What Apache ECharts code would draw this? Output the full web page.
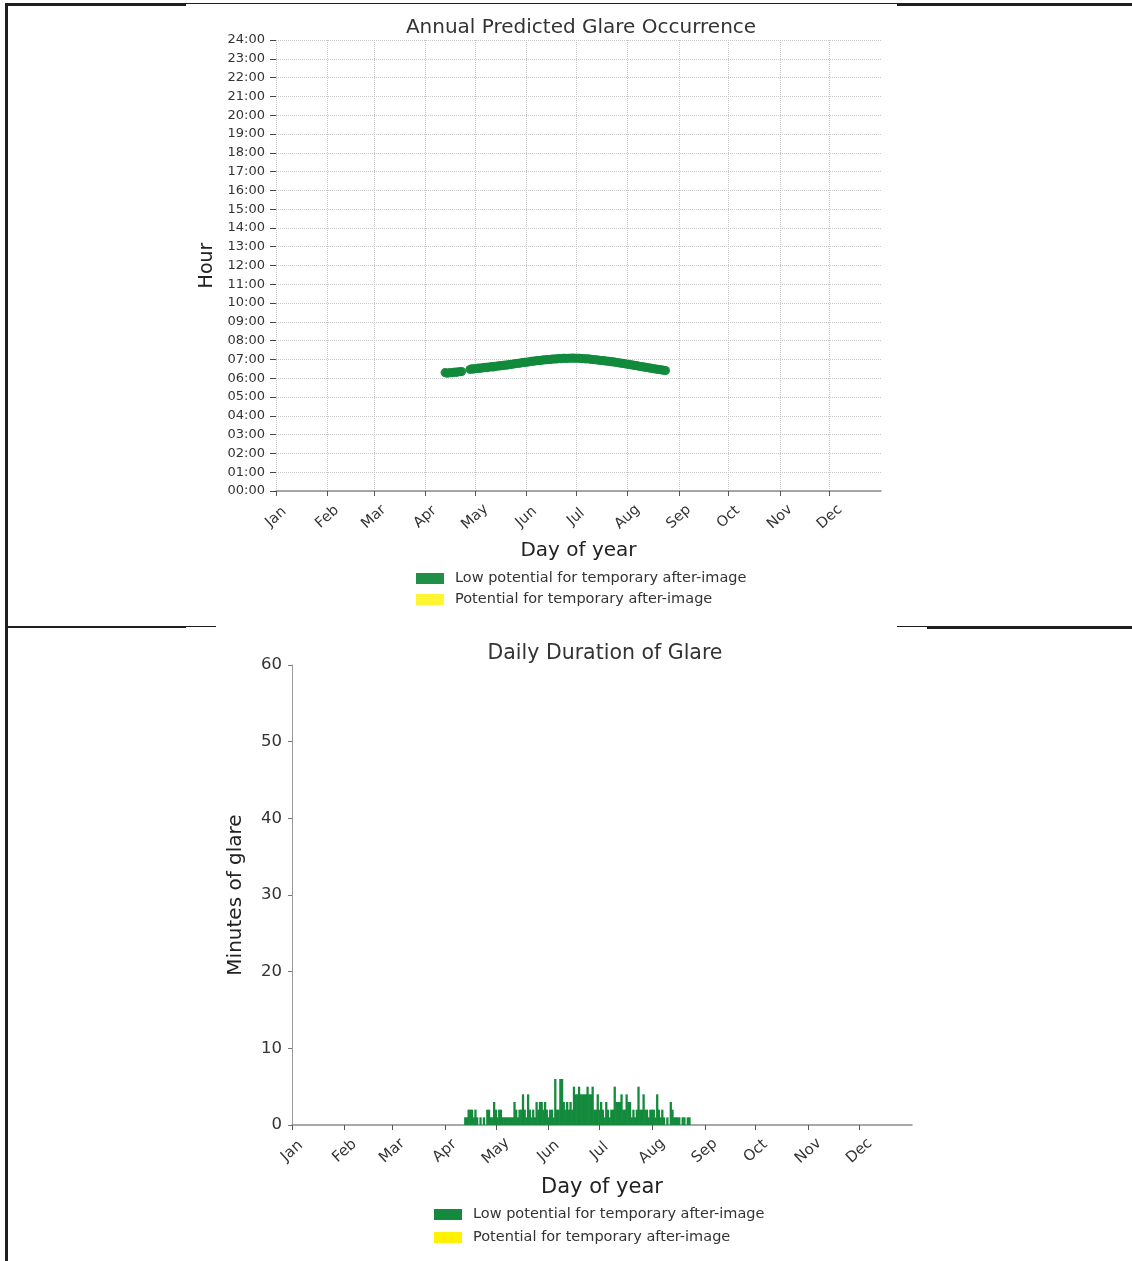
<!DOCTYPE html>
<html>
<head>
<meta charset="utf-8">
<script src="https://cdn.jsdelivr.net/npm/echarts@6/dist/echarts.min.js"></script>
<style>
  html, body { margin: 0; padding: 0; background: #fff; }
  #page { position: relative; width: 1132px; height: 1261px; overflow: hidden; background: #fff; }
  .rule { position: absolute; background: #1e1e1e; }
  #occ { position: absolute; left: 0; top: 0; width: 1132px; height: 627px; }
  #dur { position: absolute; left: 0; top: 627px; width: 1132px; height: 634px; }
</style>
</head>
<body>
<div id="page">
  <div id="occ"></div>
  <div id="dur"></div>
  <!-- table frame around the two figures -->
  <div class="rule" style="left:5px; top:3px; width:181px; height:3px;"></div>
  <div class="rule" style="left:186px; top:3px; width:711px; height:1px;"></div>
  <div class="rule" style="left:897px; top:3px; width:235px; height:3px;"></div>
  <div class="rule" style="left:5px; top:626px; width:181px; height:2px;"></div>
  <div class="rule" style="left:186px; top:626px; width:30px; height:1px;"></div>
  <div class="rule" style="left:897px; top:626px; width:30px; height:1px;"></div>
  <div class="rule" style="left:927px; top:626px; width:205px; height:3px;"></div>
  <div class="rule" style="left:5px; top:3px; width:3px; height:1258px;"></div>
</div>
<script>
// Month labels and the day-of-year on which each month starts
const monthLabels = ['Jan','Feb','Mar','Apr','May','Jun','Jul','Aug','Sep','Oct','Nov','Dec'];
const monthStarts = [0, 31, 59, 90, 120, 151, 181, 212, 243, 273, 304, 334];

// Hour-of-day tick labels
const hourTicks = ['00:00','01:00','02:00','03:00','04:00','05:00','06:00','07:00','08:00','09:00','10:00','11:00','12:00',
                   '13:00','14:00','15:00','16:00','17:00','18:00','19:00','20:00','21:00','22:00','23:00','24:00'];

// Days of year with glare and the time of day (hours) it occurs
const glareDays = [102,103,104,105,106,107,108,109,110,111,112,
  117,118,119,120,121,122,123,124,125,126,127,128,129,130,131,132,133,134,135,136,137,138,139,140,
  141,142,143,144,145,146,147,148,149,150,151,152,153,154,155,156,157,158,159,160,
  161,162,163,164,165,166,167,168,169,170,171,172,173,174,175,176,177,178,179,180,
  181,182,183,184,185,186,187,188,189,190,191,192,193,194,195,196,197,198,199,200,
  201,202,203,204,205,206,207,208,209,210,211,212,213,214,215,216,217,218,219,220,
  221,222,223,224,225,226,227,228,229,230,231,232,233,234,235];
const glareHours = [6.30,6.27,6.28,6.31,6.29,6.31,6.33,6.31,6.35,6.34,6.36,
  6.47,6.50,6.48,6.52,6.51,6.54,6.52,6.56,6.55,6.58,6.56,6.60,6.59,6.62,6.60,6.64,6.63,6.66,6.65,6.68,6.68,6.70,6.69,6.72,
  6.73,6.74,6.75,6.77,6.78,6.80,6.80,6.82,6.84,6.85,6.85,6.87,6.88,6.90,6.90,6.92,6.93,6.94,6.94,6.96,
  6.97,6.98,6.98,7.00,7.00,7.01,7.02,7.03,7.02,7.04,7.05,7.04,7.06,7.06,7.05,7.07,7.07,7.06,7.08,7.07,
  7.06,7.07,7.06,7.05,7.05,7.04,7.03,7.04,7.02,7.01,7.00,6.99,6.99,6.97,6.96,6.95,6.95,6.93,6.92,6.91,
  6.90,6.88,6.88,6.86,6.85,6.83,6.82,6.80,6.80,6.78,6.76,6.75,6.74,6.72,6.70,6.69,6.68,6.66,6.64,6.63,
  6.61,6.60,6.58,6.57,6.55,6.54,6.52,6.51,6.49,6.48,6.46,6.45,6.44,6.42,6.41];

// Minutes of glare per day, starting at day 102
const durationStartDay = 102;
const glareMinutes = [1,1,2,2,2,1,2,1,0,1,0,1,0,2,2,1,1,3,2,1,2,2,1,1,1,1,1,1,1,3,2,1,2,2,4,2,1,4,2,1,
  2,1,3,2,3,3,2,3,2,1,2,2,1,6,2,2,6,6,3,2,3,2,3,2,5,4,4,5,4,4,4,4,5,4,4,5,2,2,4,2,
  3,2,1,3,2,1,2,2,5,3,3,3,4,2,2,4,3,3,1,2,1,2,5,2,2,4,2,2,1,2,2,2,1,4,2,1,2,1,0,1,
  0,3,2,1,1,1,1,0,1,1,0,1,1];

const GREEN = '#138a3c';
const YELLOW = '#fff200';
const FONT = 'DejaVu Sans';

const scatterData = glareDays.map((d, i) => [d, glareHours[i]]);
const barData = glareMinutes.map((m, i) => [durationStartDay + i, m]);

function monthAxis(fontSize, margin) {
  return {
    type: 'value', min: 0, max: 365,
    axisLine: { show: true, lineStyle: { color: '#8c8c8c', width: 1.5 } },
    axisTick: { show: true, customValues: monthStarts, length: 5, lineStyle: { color: '#555' } },
    axisLabel: {
      customValues: monthStarts,
      formatter: v => monthLabels[monthStarts.indexOf(v)],
      rotate: 42, align: 'center', verticalAlign: 'middle', margin: margin,
      fontFamily: FONT, fontSize: fontSize, color: '#333'
    }
  };
}

const legendBase = {
  orient: 'vertical', icon: 'rect', itemWidth: 28, itemHeight: 11,
  selectedMode: false
};

// Annual predicted glare occurrence
const occChart = echarts.init(document.getElementById('occ'), null, { renderer: 'canvas' });
occChart.setOption({
  animation: false,
  title: {
    text: 'Annual Predicted Glare Occurrence', left: 576, top: 13, textAlign: 'center',
    textStyle: { fontFamily: FONT, fontSize: 20, fontWeight: 'normal', color: '#333' }
  },
  grid: { left: 276, top: 40, width: 605, height: 451 },
  xAxis: Object.assign(monthAxis(14.5, 26), {
    name: 'Day of year', nameLocation: 'middle', nameGap: 50,
    nameTextStyle: { fontFamily: FONT, fontSize: 20, color: '#222' },
    splitLine: { show: true, lineStyle: { color: '#c8c8c8', type: [1, 1], width: 1 } }
  }),
  yAxis: {
    type: 'value', min: 0, max: 24, interval: 1,
    name: 'Hour', nameLocation: 'middle', nameGap: 57, nameRotate: 90,
    nameTextStyle: { fontFamily: FONT, fontSize: 19, color: '#222' },
    axisLine: { show: false },
    axisTick: { show: true, length: 6, lineStyle: { color: '#444' } },
    axisLabel: { formatter: v => hourTicks[v], fontFamily: FONT, fontSize: 13, color: '#333', margin: 11 },
    splitLine: { show: true, lineStyle: { color: '#c8c8c8', type: [1, 1], width: 1 } }
  },
  legend: Object.assign({}, legendBase, {
    left: 411, top: 566, itemGap: 6,
    textStyle: { fontFamily: FONT, fontSize: 14.5, color: '#333', padding: [0, 0, 0, 6] },
    data: ['Low potential for temporary after-image', 'Potential for temporary after-image']
  }),
  series: [
    {
      name: 'Low potential for temporary after-image', type: 'scatter',
      data: scatterData, symbolSize: 9, itemStyle: { color: GREEN, opacity: 0.95 }
    },
    {
      name: 'Potential for temporary after-image', type: 'scatter',
      data: [], symbolSize: 8, itemStyle: { color: YELLOW }
    }
  ]
});

// Daily duration of glare
const durChart = echarts.init(document.getElementById('dur'), null, { renderer: 'canvas' });
durChart.setOption({
  animation: false,
  title: {
    text: 'Daily Duration of Glare', left: 600, top: 11, textAlign: 'center',
    textStyle: { fontFamily: FONT, fontSize: 20.5, fontWeight: 'normal', color: '#333' }
  },
  grid: { left: 292, top: 38, width: 620, height: 460 },
  xAxis: Object.assign(monthAxis(15, 26), {
    name: 'Day of year', nameLocation: 'middle', nameGap: 52,
    nameTextStyle: { fontFamily: FONT, fontSize: 21, color: '#222' },
    splitLine: { show: false }
  }),
  yAxis: {
    type: 'value', min: 0, max: 60, interval: 10,
    name: 'Minutes of glare', nameLocation: 'middle', nameGap: 46, nameRotate: 90,
    nameTextStyle: { fontFamily: FONT, fontSize: 20, color: '#222' },
    axisLine: { show: true, lineStyle: { color: '#9a9a9a', width: 1 } },
    axisTick: { show: true, length: 4, lineStyle: { color: '#777' } },
    axisLabel: { fontFamily: FONT, fontSize: 16.5, color: '#333', margin: 10 },
    splitLine: { show: false }
  },
  legend: Object.assign({}, legendBase, {
    left: 429, top: 575, itemGap: 8,
    textStyle: { fontFamily: FONT, fontSize: 14.5, color: '#333', padding: [0, 0, 0, 6] },
    data: ['Low potential for temporary after-image', 'Potential for temporary after-image']
  }),
  series: [
    {
      name: 'Low potential for temporary after-image', type: 'bar',
      data: barData, barWidth: 2.3, barGap: '-100%', itemStyle: { color: GREEN }
    },
    {
      name: 'Potential for temporary after-image', type: 'bar',
      data: [], barWidth: 2.3, itemStyle: { color: YELLOW }
    }
  ]
});
</script>
</body>
</html>
